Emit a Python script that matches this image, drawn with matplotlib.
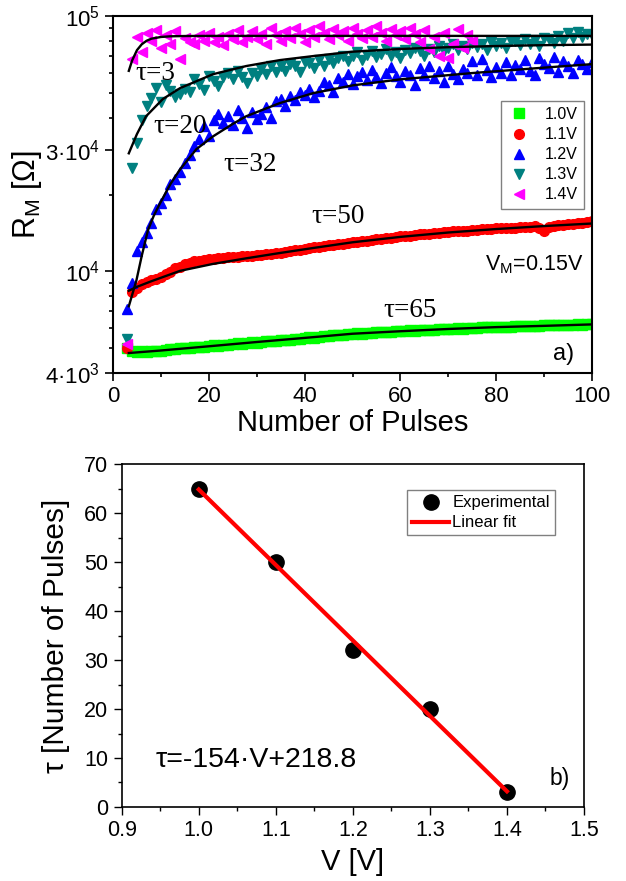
import matplotlib
matplotlib.use('Agg')
import matplotlib.pyplot as plt
from matplotlib.ticker import MultipleLocator, FixedLocator, NullFormatter

plt.rcParams['font.family'] = ['Liberation Sans', 'DejaVu Sans']
plt.rcParams['mathtext.fontset'] = 'custom'
plt.rcParams['mathtext.rm'] = 'Liberation Sans'
plt.rcParams['mathtext.it'] = 'Liberation Sans'
plt.rcParams['mathtext.default'] = 'regular'

# ---- panel a) : R_M vs number of pulses ----
pulses = list(range(3, 101))
pulses_14 = list(range(3, 76))

r_10 = [5000, 4870, 4840, 4880, 4820, 4860, 4890, 4880, 4940, 4960,
        4950, 5000, 5030, 5010, 5060, 5080, 5060, 5100, 5130, 5120,
        5160, 5170, 5180, 5220, 5210, 5250, 5270, 5260, 5300, 5320,
        5330, 5360, 5370, 5400, 5410, 5450, 5460, 5480, 5510, 5500,
        5550, 5570, 5580, 5620, 5630, 5650, 5690, 5700, 5720, 5710,
        5750, 5760, 5770, 5800, 5790, 5810, 5840, 5830, 5850, 5870,
        5860, 5890, 5900, 5890, 5920, 5930, 5950, 5940, 5970, 5980,
        5970, 6000, 6010, 6000, 6030, 6040, 6030, 6060, 6070, 6060,
        6080, 6100, 6090, 6110, 6120, 6110, 6130, 6140, 6150, 6140,
        6160, 6170, 6160, 6190, 6200, 6190, 6210, 6230]

r_11 = [5000, 8300, 8600, 8900, 9050, 9250, 9300, 9500, 9750, 9950,
        10300, 10450, 10700, 10800, 10950, 10950, 11100, 11200, 11150, 11300,
        11300, 11350, 11400, 11380, 11450, 11500, 11500, 11600, 11620, 11700,
        11750, 11800, 11850, 11950, 12000, 12100, 12150, 12250, 12300, 12420,
        12480, 12550, 12650, 12700, 12800, 12850, 12900, 13000, 13050, 13100,
        13200, 13250, 13350, 13400, 13500, 13550, 13650, 13700, 13750, 13800,
        13900, 13950, 14000, 14050, 14100, 14200, 14250, 14300, 14350, 14400,
        14400, 14450, 14500, 14550, 14600, 14650, 14700, 14750, 14750, 14800,
        14850, 14850, 14900, 14950, 14950, 15000, 14800, 14400, 14900, 15100,
        15150, 15250, 15300, 15350, 15450, 15500, 15600, 15700]

r_12 = [7150, 9000, 12000, 13000, 14200, 15500, 17500, 18500, 20000, 22000,
        23000, 24500, 26500, 28500, 31000, 33000, 37000, 34000, 39000, 41500,
        38000, 40500, 37500, 43000, 40000, 36500, 42000, 39500, 41500, 44000,
        40000, 46500, 47500, 44500, 48500, 47000, 50500, 49000, 52000, 48000,
        51000, 55000, 53500, 50500, 57000, 55000, 59500, 54000, 58000, 60500,
        56000, 61500, 57500, 54500, 60000, 63000, 58000, 55000, 61000, 59000,
        53500, 62500, 58500, 64000, 57000, 61000, 55000, 63500, 59500, 56500,
        62000, 60000, 66500, 58500, 68000, 61500, 57500, 63000, 60000, 66000,
        59000, 64500, 62000, 67500, 61000, 58500, 68500, 65000, 62500, 69000,
        60500, 66500, 63500, 60000, 67000, 65000, 62000, 66000]

r_13 = [5450, 25400, 31900, 39000, 44300, 47800, 52300, 46000, 53500, 50800,
        48000, 49500, 52000, 50500, 56600, 54000, 51500, 58200, 55500, 53000,
        57500, 59800, 56500, 61000, 57500, 54600, 60000, 58000, 62000, 59500,
        63500, 60500, 63700, 61000, 65000, 63700, 60500, 66000, 65400, 62500,
        67000, 64000, 67900, 65500, 68500, 69700, 66500, 69700, 72000, 67500,
        70500, 73000, 69000, 71000, 74000, 70000, 72500, 68500, 73500, 71500,
        75000, 72900, 70000, 74500, 72000, 76000, 73000, 74900, 77500, 73500,
        76500, 74500, 78500, 75500, 77700, 73500, 79000, 76000, 78500, 75000,
        80000, 79800, 77000, 81000, 78000, 80500, 76500, 82000, 81200, 78500,
        83500, 80000, 85800, 82000, 86500, 83000, 85000, 84000]

r_14 = [5200, 68000, 83000, 72000, 86000, 80000, 88000, 75000, 84000, 78000,
        87000, 68000, 82000, 79000, 77700, 84000, 80000, 86000, 79000, 83000,
        77000, 85000, 81000, 88000, 79000, 83000, 87500, 81000, 85000, 78000,
        89700, 84000, 80000, 87000, 82000, 90000, 85000, 79000, 88000, 83000,
        91000, 86000, 81000, 89000, 84000, 87000, 80000, 90000, 85000, 82000,
        88000, 83000, 91000, 86000, 80000, 89000, 84000, 87000, 81000, 90000,
        85000, 79000, 88000, 74000, 83000, 70000, 86000, 68500, 78000, 89000,
        75000, 84000, 80000]

# fitted curves
fit_x_10 = [3.3, 10, 20, 30, 40, 50, 60, 70, 80, 90, 100]
fit_r_10 = [4790, 4900, 5090, 5290, 5490, 5700, 5830, 5950, 6050, 6120, 6200]
fit_x_11 = [3.3, 5, 8, 10.4, 14, 20.9, 27.8, 34.8, 41.8, 50, 60, 70, 80, 90, 100]
fit_r_11 = [8400, 8700, 9150, 9500, 10050, 10700, 11250, 11800, 12350, 13000,
            13650, 14200, 14650, 15050, 15400]
fit_x_12 = [3.3, 4.9, 6, 7.3, 8.5, 9.7, 12, 14, 17.4, 20.9, 25, 27.8, 34.8,
            41.8, 50, 60, 75, 90, 100]
fit_r_12 = [7300, 9240, 11500, 14500, 16500, 18300, 22000, 25100, 30100, 33800,
            37800, 40500, 45600, 49900, 53500, 56500, 59800, 62800, 64800]
fit_x_13 = [3.3, 5, 6.9, 10.4, 14, 20.9, 27.8, 34.8, 41.8, 50, 60, 70, 80, 90, 100]
fit_r_13 = [29000, 34500, 40500, 47300, 52200, 59200, 63700, 67200, 69700,
            72500, 74300, 75500, 76300, 76900, 77300]
fit_x_14 = [3.3, 4, 5, 6, 7, 8, 10, 12, 15, 20, 100]
fit_r_14 = [61000, 67000, 73500, 77500, 80000, 81500, 82800, 83300, 83500, 83600, 83600]

tau_labels = ['τ=3', 'τ=20', 'τ=32', 'τ=50', 'τ=65']
tau_lab_x = [4.6, 8.4, 23, 41.5, 56.4]
tau_lab_y = [59300, 37000, 26300, 16400, 7000]

# ---- panel b) : tau vs voltage ----
volt = [1.0, 1.1, 1.2, 1.3, 1.4]
tau = [65, 50, 32, 20, 3]
fit_v = [1.0, 1.4]
fit_tau = [64.8, 3.2]

fig = plt.figure(figsize=(6.26, 8.81), dpi=100)

ax1 = fig.add_axes([0.1805, 0.5766, 0.7652, 0.4052])
series = [(pulses, r_10, 's', '#00ff00', '1.0V'),
          (pulses, r_11, 'o', '#ff0000', '1.1V'),
          (pulses, r_12, '^', '#0000ff', '1.2V'),
          (pulses, r_13, 'v', '#008080', '1.3V'),
          (pulses_14, r_14, '<', '#ff00ff', '1.4V')]
for xs, ys, m, c, lab in series:
    ax1.plot(xs, ys, ls='none', marker=m, ms=7, color=c, mec=c, label=lab)

for fx, fr in [(fit_x_10, fit_r_10), (fit_x_11, fit_r_11), (fit_x_12, fit_r_12),
               (fit_x_13, fit_r_13), (fit_x_14, fit_r_14)]:
    ax1.plot(fx, fr, color='black', lw=1.7, zorder=5)

for t, tx, ty in zip(tau_labels, tau_lab_x, tau_lab_y):
    ax1.text(tx, ty, t, family=['Liberation Serif'], fontsize=19.5, ha='left', va='center', zorder=6)

ax1.text(77.7, 10100, 'V$_M$=0.15V', fontsize=15.5, ha='left', va='baseline')
ax1.text(91.9, 4500, 'a)', fontsize=17, ha='left', va='baseline')

ax1.set_yscale('log')
ax1.set_xlim(0, 100)
ax1.set_ylim(4000, 1e5)
ax1.xaxis.set_major_locator(MultipleLocator(20))
ax1.xaxis.set_minor_locator(MultipleLocator(10))
ax1.set_yticks([4e3, 1e4, 3e4, 1e5],
               ['$4·10^3$', '$10^4$', '$3·10^4$', '$10^5$'])
ax1.yaxis.set_minor_locator(FixedLocator([5e3, 6e3, 7e3, 8e3, 9e3, 2e4,
                                          4e4, 5e4, 6e4, 7e4, 8e4, 9e4]))
ax1.yaxis.set_minor_formatter(NullFormatter())
ax1.tick_params(which='both', direction='out', top=False, right=False, labelsize=16, width=1.2)
ax1.tick_params(which='major', length=6)
ax1.tick_params(which='minor', length=3)
for s in ax1.spines.values():
    s.set_linewidth(1.5)
ax1.set_xlabel('Number of Pulses', fontsize=21, labelpad=1)
ax1.set_ylabel('R$_M$ [Ω]', fontsize=22)
ax1.yaxis.set_label_coords(-0.145, 0.5)

leg1 = ax1.legend(loc='upper left', bbox_to_anchor=(0.811, 0.763), fontsize=11.5,
                  fancybox=False, edgecolor='#808080', framealpha=1,
                  handletextpad=0.9, labelspacing=0.32, borderpad=0.4,
                  handlelength=1.4, borderaxespad=0)
leg1.get_frame().set_linewidth(1.0)

ax2 = fig.add_axes([0.1944, 0.0840, 0.7385, 0.3893])
ax2.plot(volt, tau, ls='none', marker='o', ms=11, color='black', label='Experimental', zorder=3)
ax2.plot(fit_v, fit_tau, color='red', lw=3, label='Linear fit', zorder=4)
ax2.set_xlim(0.9, 1.5)
ax2.set_ylim(0, 70)
ax2.xaxis.set_major_locator(MultipleLocator(0.1))
ax2.xaxis.set_minor_locator(MultipleLocator(0.05))
ax2.yaxis.set_major_locator(MultipleLocator(10))
ax2.yaxis.set_minor_locator(MultipleLocator(5))
ax2.tick_params(which='both', direction='out', top=False, right=False, labelsize=15.5, width=1.0)
ax2.tick_params(which='major', length=6)
ax2.tick_params(which='minor', length=3)
for s in ax2.spines.values():
    s.set_linewidth(1.2)
ax2.set_xlabel('V [V]', fontsize=21, labelpad=5)
ax2.set_ylabel('τ [Number of Pulses]', fontsize=21.5)
ax2.yaxis.set_label_coords(-0.112, 0.5)
ax2.text(0.944, 9.6, 'τ=-154·V+218.8', fontsize=20.5, ha='left', va='center')
ax2.text(1.455, 5.9, 'b)', fontsize=16.5, ha='left', va='center')

leg2 = ax2.legend(loc='upper left', bbox_to_anchor=(0.618, 0.923), fontsize=12,
                  fancybox=False, edgecolor='#808080', framealpha=1,
                  handletextpad=0.2, labelspacing=0.3, borderpad=0.3,
                  handlelength=2.2, borderaxespad=0)
leg2.get_frame().set_linewidth(1.0)

fig.savefig('out.png', dpi=100)
